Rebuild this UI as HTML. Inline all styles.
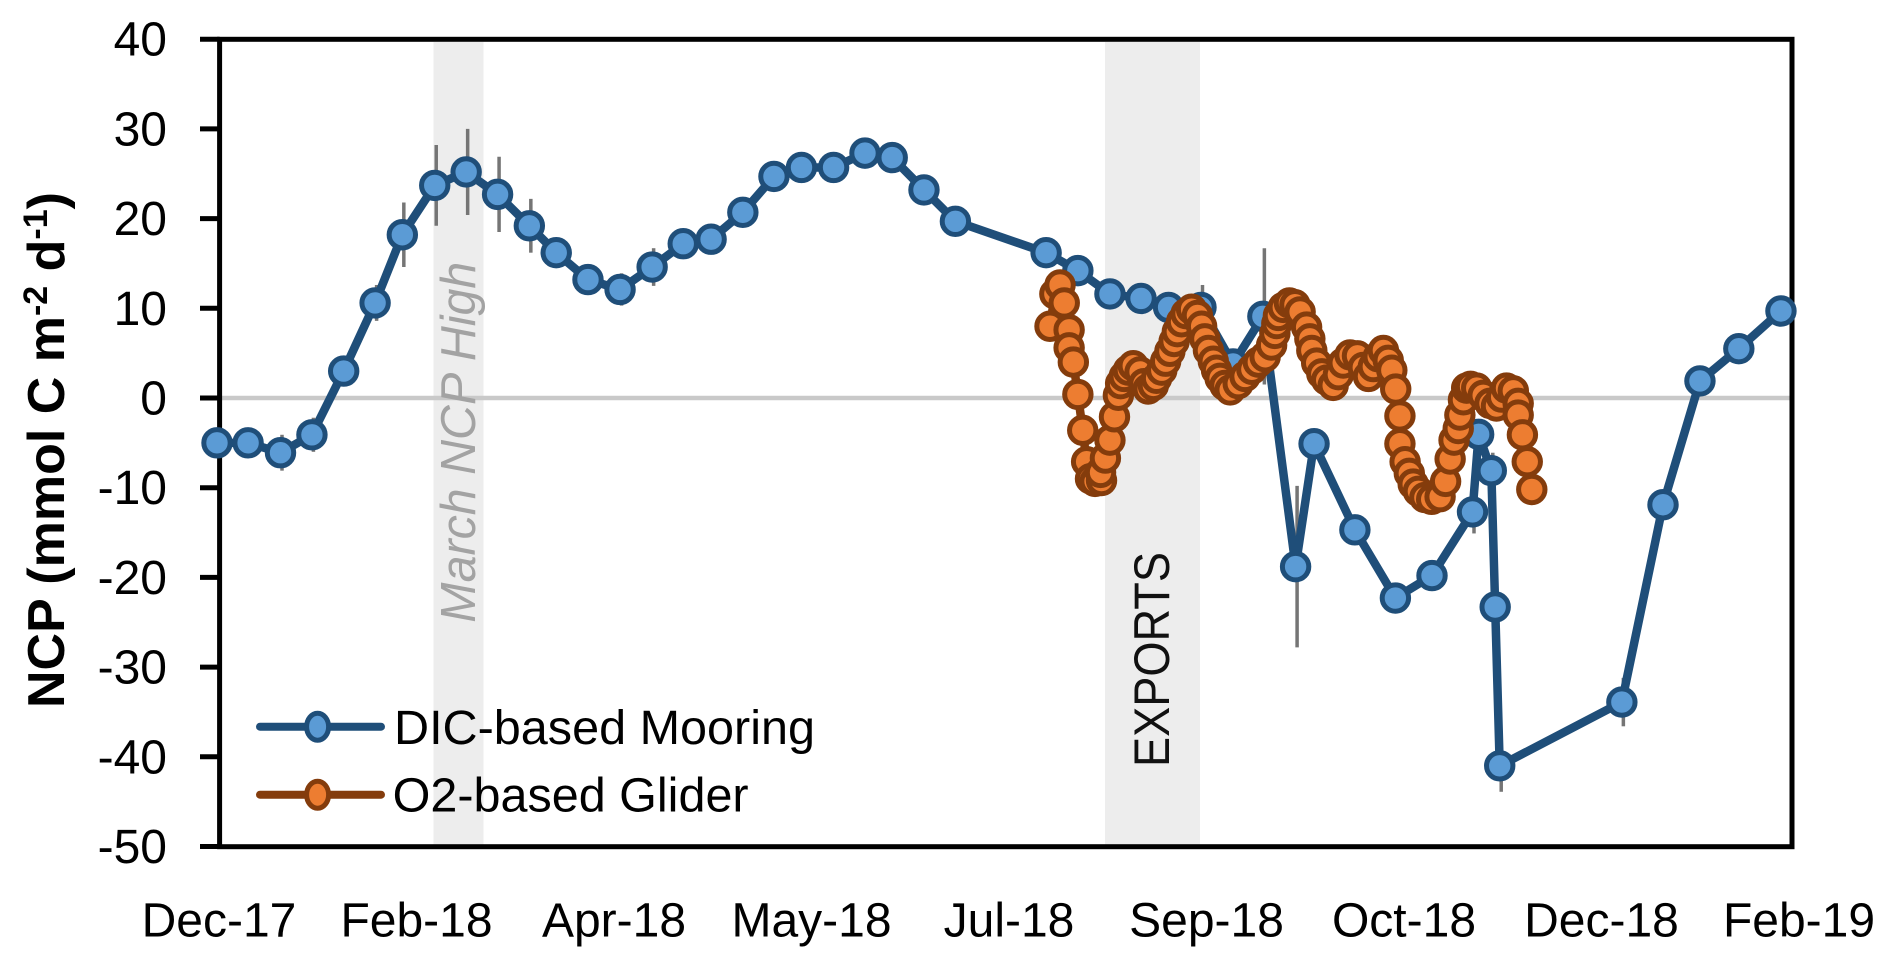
<!DOCTYPE html>
<html lang="en">
<head>
<meta charset="utf-8">
<title>NCP chart</title>
<style>
html,body{margin:0;padding:0;background:#fff;}
svg{display:block;}
text{font-family:"Liberation Sans",sans-serif;}
</style>
</head>
<body>
<svg id="chart" xmlns="http://www.w3.org/2000/svg" width="1892" height="967" viewBox="0 0 1892 967">
  <rect x="0" y="0" width="1892" height="967" fill="#ffffff"/>
  <rect x="433.5" y="42" width="50" height="804" fill="#ededed"/>
  <rect x="1105" y="42" width="95" height="804" fill="#ededed"/>
  <line x1="219" y1="398" x2="1792" y2="398" stroke="#c9c9c9" stroke-width="4.5"/>
  <text transform="translate(475,622.7) rotate(-90)" font-size="49" font-style="italic" fill="#a3a3a3" textLength="361" lengthAdjust="spacingAndGlyphs">March NCP High</text>
  <text transform="translate(1169,767) rotate(-90)" font-size="50" fill="#111111" textLength="215" lengthAdjust="spacingAndGlyphs">EXPORTS</text>
  <g id="axes"></g>
  <rect x="219.6" y="39.3" width="1572.4" height="807.4" fill="none" stroke="#000000" stroke-width="5"/>
  <text transform="translate(64,708) rotate(-90)" font-size="52" font-weight="bold" fill="#000000">NCP (mmol C m<tspan font-size="34" dy="-17">-2</tspan><tspan dy="17"> d</tspan><tspan font-size="34" dy="-17">-1</tspan><tspan dy="17">)</tspan></text>
  <g id="series"></g>
  <g>
    <g>
      <line x1="260" y1="726.7" x2="381" y2="726.7" stroke="#1f4e79" stroke-width="8" stroke-linecap="round"/>
      <ellipse cx="317.6" cy="726.7" rx="11" ry="13.5" fill="#5b9bd5" stroke="#1f4e79" stroke-width="5"/>
      <text x="394" y="744" font-size="48" fill="#000000" textLength="421" lengthAdjust="spacingAndGlyphs">DIC-based Mooring</text>
    </g>
    <g>
      <line x1="260" y1="794.7" x2="381" y2="794.7" stroke="#843c0c" stroke-width="8" stroke-linecap="round"/>
      <ellipse cx="317.6" cy="794.7" rx="11" ry="13.5" fill="#ed7d31" stroke="#843c0c" stroke-width="5"/>
      <text x="392.6" y="811.7" font-size="48" fill="#000000" textLength="356" lengthAdjust="spacingAndGlyphs">O2-based Glider</text>
    </g>
  </g>
</svg>
<script>
var xTickLabels = ["Dec-17","Feb-18","Apr-18","May-18","Jul-18","Sep-18","Oct-18","Dec-18","Feb-19"];
var yTickValues = [40,30,20,10,0,-10,-20,-30,-40,-50];

var dicDays = [0,9.6,19.6,29.3,39.1,48.8,57.2,67.2,76.9,86.6,96.4,104.7,114.5,124.4,134.3,143.9,152.5,162.3,171.9,180.4,190.3,200,208.4,218.2,227.9,255.9,265.7,275.6,285.2,293.7,303.7,313.6,322.8,332.9,338.6,351.2,363.7,375,387.5,389.4,393.3,394.5,395.9,433.6,446.3,457.7,469.7,482.7];
var dicValues = [-5.0,-5.0,-6.1,-4.1,3.0,10.6,18.2,23.7,25.2,22.7,19.2,16.2,13.2,12.1,14.6,17.2,17.7,20.7,24.7,25.7,25.7,27.3,26.8,23.2,19.7,16.2,14.2,11.6,11.1,10.1,10.1,3.8,9.1,-18.8,-5.1,-14.7,-22.3,-19.8,-12.7,-4.05,-8.1,-23.3,-41,-33.9,-11.9,1.9,5.5,9.7];
var dicErrors = [0.8,1,2,1.9,1,2,3.6,4.5,4.8,4.2,3,1,1,1.8,2.1,1,1,1,1,1,1,1,1,1,1,1,1,1,1,1,2.5,1,7.6,9,1,1,1,1,2.4,1,2,1,2.9,2.7,1,1,1,1];

var gliderDays = [257.1,258.6,260.2,261.5,263.0,263.0,264.3,265.7,267.2,268.4,269.6,271.0,273.0,272.7,274.2,275.6,277.0,278.2,278.9,280.0,281.3,282.8,284.9,286.1,287.4,289.0,290.0,291.6,292.8,294.1,295.4,296.4,297.7,299.1,300.8,302.6,303.9,304.9,306.0,307.5,308.5,309.6,311.1,312.7,315.2,317.3,319.4,321.4,323.5,325.5,326.5,327.1,327.6,329.1,331.0,332.7,334.3,336.3,337.3,337.9,339.4,341.0,342.5,344.5,346.1,347.6,349.7,352.0,353.8,355.4,356.9,358.4,360.0,361.5,362.6,363.8,365.1,365.1,366.7,368.0,369.2,370.8,372.8,374.9,377.5,379.2,380.6,381.8,383.1,383.6,384.7,385.7,386.9,388.8,390.8,392.9,394.9,396.5,398.0,400.1,401.6,401.6,402.9,404.4,405.8];
var gliderValues = [8.0,11.6,12.6,10.6,7.6,5.6,4.0,0.4,-3.6,-7.1,-9.0,-9.3,-9.2,-8.3,-6.7,-4.7,-2.1,0.3,1.6,2.4,3.1,3.6,2.9,1.6,1.0,1.4,2.2,3.1,4.1,5.2,6.3,7.4,8.5,9.4,9.9,9.2,8.0,6.6,5.3,4.1,3.1,2.2,1.4,0.9,1.6,2.4,3.2,4.0,4.6,5.9,7.2,8.3,9.2,10.1,10.6,10.4,9.6,7.9,6.6,5.3,3.9,2.7,2.0,1.4,2.6,3.9,4.8,4.7,3.4,2.4,3.5,4.6,5.3,4.2,3.1,1.0,-2.0,-5.1,-7.1,-8.4,-9.6,-10.4,-11.1,-11.3,-11.0,-9.3,-6.8,-4.7,-3.4,-1.9,-0.2,1.1,1.3,1.1,0.3,-0.6,-0.9,0.1,1.1,0.8,-0.6,-1.9,-4.1,-7.1,-10.2];

var NS = 'http://www.w3.org/2000/svg';
function xScale(day){ return 217 + day * 3.24; }
function yScale(v){ return 398 - v * 8.97; }
function xTickPos(i){ return 219 + i * 197.5; }

function make(tag, attrs, parent){
  var el = document.createElementNS(NS, tag);
  for (var k in attrs) { el.setAttribute(k, attrs[k]); }
  parent.appendChild(el);
  return el;
}

var axes = document.getElementById('axes');
var series = document.getElementById('series');

yTickValues.forEach(function(v){
  var tick = make('line', {x1:200, x2:219.6, y1:yScale(v), y2:yScale(v), stroke:'#000000', 'stroke-width':5}, axes);
  
  
  var label = make('text', {x:167, y:yScale(v)+16.5, 'text-anchor':'end', 'font-size':48, fill:'#000000'}, axes);
  
  
  label.textContent = String(v);
});

xTickLabels.forEach(function(t, i){
  var label = make('text', {x:xTickPos(i), y:936.7, 'text-anchor':'middle', 'font-size':48, fill:'#000000'}, axes);
  
  
  label.textContent = t;
});

dicDays.forEach(function(d, i){
  var bar = make('line', {x1:xScale(d)+1.5, x2:xScale(d)+1.5, y1:yScale(dicValues[i]+dicErrors[i]), y2:yScale(dicValues[i]-dicErrors[i]), stroke:'#757575', 'stroke-width':3.5}, series);
  
  
});

var dicPts = dicDays.map(function(d, i){ return xScale(d) + ',' + yScale(dicValues[i]); }).join(' ');
var dicLine = make('polyline', {points:dicPts, fill:'none', stroke:'#1f4e79', 'stroke-width':8.5, 'stroke-linejoin':'round'}, series);



dicDays.forEach(function(d, i){
  var pt = make('circle', {cx:xScale(d), cy:yScale(dicValues[i]), r:13.2, fill:'#5b9bd5', stroke:'#1f4e79', 'stroke-width':5}, series);
  
  
});

var gliderPts = gliderDays.map(function(d, i){ return xScale(d) + ',' + yScale(gliderValues[i]); }).join(' ');
var gliderLine = make('polyline', {points:gliderPts, fill:'none', stroke:'#843c0c', 'stroke-width':8.5, 'stroke-linejoin':'round'}, series);



gliderDays.forEach(function(d, i){
  var pt = make('circle', {cx:xScale(d), cy:yScale(gliderValues[i]), r:13.2, fill:'#ed7d31', stroke:'#843c0c', 'stroke-width':5}, series);
  
  
});
</script>
</body>
</html>
